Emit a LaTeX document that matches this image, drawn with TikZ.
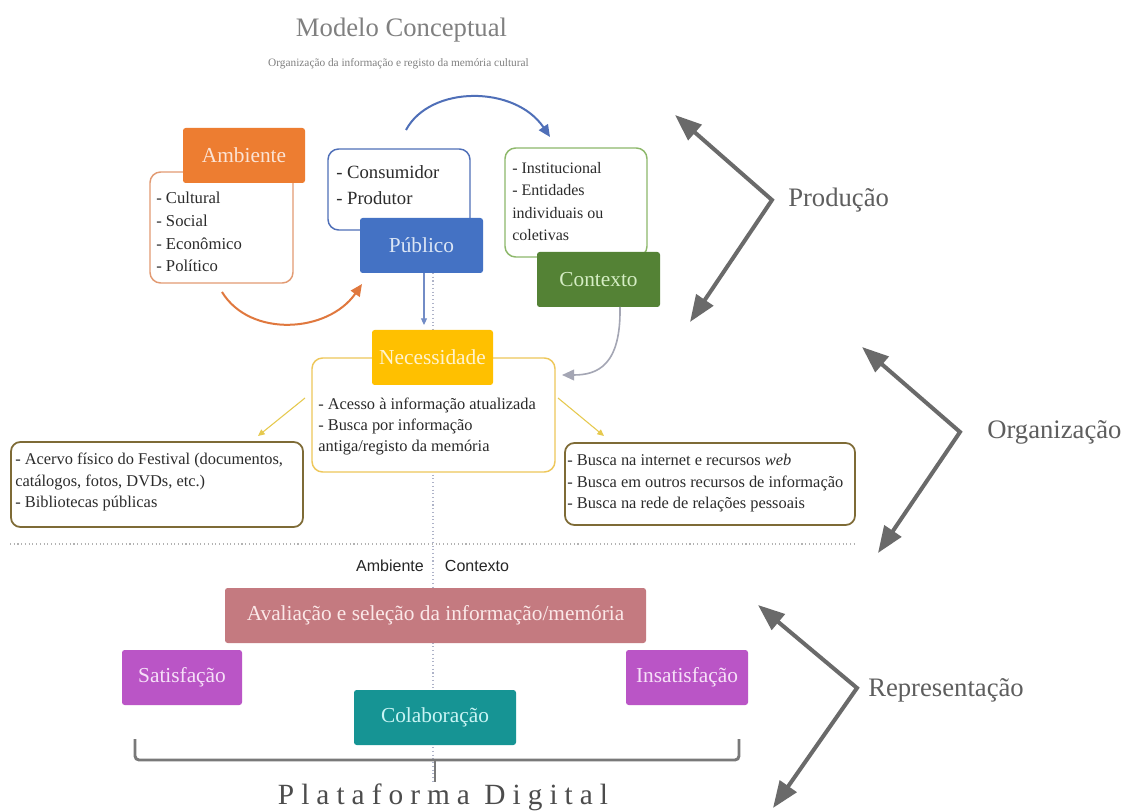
\documentclass[tikz,border=0pt]{standalone}
\usepackage{fontspec}
\setmainfont{Liberation Serif}
\newfontfamily\labsans{Liberation Sans}
\newfontfamily\platfont[LetterSpace=24]{Liberation Serif}
\usetikzlibrary{arrows.meta}
\definecolor{ambfill}{HTML}{ED7D31}
\definecolor{ambtext}{HTML}{FBE3D5}
\definecolor{ambborder}{HTML}{E29A72}
\definecolor{pubfill}{HTML}{4472C4}
\definecolor{pubtext}{HTML}{DCE6F5}
\definecolor{pubborder}{HTML}{4F6FB8}
\definecolor{ctxfill}{HTML}{548235}
\definecolor{ctxtext}{HTML}{D5EDC4}
\definecolor{ctxborder}{HTML}{8DB86A}
\definecolor{necfill}{HTML}{FFC000}
\definecolor{nectext}{HTML}{FFF3CF}
\definecolor{necborder}{HTML}{EEC75A}
\definecolor{brownborder}{HTML}{7E6B36}
\definecolor{avalfill}{HTML}{C47A80}
\definecolor{avaltext}{HTML}{FBE8E8}
\definecolor{satfill}{HTML}{BA55C6}
\definecolor{sattext}{HTML}{F6E0F8}
\definecolor{colfill}{HTML}{169494}
\definecolor{coltext}{HTML}{C9F4F4}
\definecolor{chevcol}{HTML}{6A6A6A}
\definecolor{labelgrey}{HTML}{5E5E5E}
\definecolor{titlegrey}{HTML}{808080}
\definecolor{txtcol}{HTML}{2B2B2B}
\definecolor{yelarrow}{HTML}{E6C94E}
\definecolor{dotcol}{HTML}{AEB3C8}
\definecolor{greyarrow}{HTML}{A4A6B4}
\definecolor{orangearrow}{HTML}{E0783E}
\tikzset{
  sz/.style 2 args={minimum width=#1*0.75pt, minimum height=#2*0.75pt},
  hdr/.style={rectangle, rounded corners=2pt, inner sep=0pt, font=\fontsize{16}{19}\selectfont},
  outer/.style={rectangle, rounded corners=8pt, fill=white, line width=1.1pt, inner sep=0pt},
  srcbox/.style={rectangle, rounded corners=7pt, fill=white, draw=brownborder, line width=1.3pt, inner sep=0pt},
  listtxt/.style={anchor=west, align=left, inner sep=0pt, text=txtcol},
  chev/.style={draw=chevcol, line width=3pt, {Triangle[length=20pt,width=15pt]}-{Triangle[length=20pt,width=15pt]}},
  chevlab/.style={anchor=west, inner sep=0pt, text=labelgrey, font=\fontsize{20}{24}\selectfont},
  thinarrow/.style={line width=0.8pt, -{Triangle[length=5pt,width=4.5pt]}},
  curvearrow/.style={line width=1.5pt, -{Triangle[length=9pt,width=8pt]}}
}
\begin{document}
\begin{tikzpicture}[x=0.75pt,y=-0.75pt]
\useasboundingbox (0,0) rectangle (1128,812);
\fill[white] (0,0) rectangle (1128,812);

% guide lines (behind)
\coordinate (vtop) at (433,273);
\coordinate (vbot) at (433,782);
\draw[dotcol, dotted, line width=0.8pt] (vtop) -- (vbot);
\coordinate (hl) at (10,544);
\coordinate (hr) at (855,544);
\draw[black!30, dotted, line width=0.8pt] (hl) -- (hr);

% title
\node[anchor=base, inner sep=0pt, text=titlegrey, font=\fontsize{20}{24}\selectfont] (title) at (401.5,37) {Modelo Conceptual};
\node[anchor=base, inner sep=0pt, text=titlegrey, font=\fontsize{8.5}{10}\selectfont] (subtitle) at (398.5,67) {Organização da informação e registo da memória cultural};

% Ambiente
\node[outer, draw=ambborder, sz={143}{111}] (ambbox) at (221.5,227.5) {};
\node[listtxt, font=\fontsize{12.5}{17}\selectfont] (ambtxt) at (156,232) {- Cultural\\- Social\\- Econômico\\- Político};
\node[hdr, fill=ambfill, text=ambtext, sz={122}{55}] (amb) at (244,155.5) {Ambiente};

% Publico
\node[outer, draw=pubborder, sz={142}{81}] (pubbox) at (399,189.5) {};
\node[listtxt, font=\fontsize{14}{19.5}\selectfont] (pubtxt) at (336,185) {- Consumidor\\- Produtor};
\node[hdr, fill=pubfill, text=pubtext, sz={123}{55}] (pub) at (421.5,245.5) {Público};

% Contexto
\node[outer, draw=ctxborder, sz={142}{109}] (ctxbox) at (576,202.5) {};
\node[listtxt, font=\fontsize{12}{16.7}\selectfont] (ctxtxt) at (512,201.5) {- Institucional\\- Entidades\\individuais ou\\coletivas};
\node[hdr, fill=ctxfill, text=ctxtext, sz={123}{55}] (ctx) at (598.5,279.5) {Contexto};

% Necessidade
\node[outer, draw=necborder, sz={243}{114}] (necbox) at (433.5,415) {};
\node[listtxt, font=\fontsize{12.3}{16.1}\selectfont] (nectxt) at (318,426.5) {- Acesso à informação atualizada\\- Busca por informação\\antiga/registo da memória};
\node[hdr, fill=necfill, text=nectext, sz={121}{55}] (nec) at (432.5,357.5) {Necessidade};

% source boxes
\node[srcbox, sz={292}{85}] (leftbox) at (157,484.5) {};
\node[listtxt, font=\fontsize{12.3}{16.1}\selectfont] (lefttxt) at (15,482) {- Acervo físico do Festival (documentos,\\catálogos, fotos, DVDs, etc.)\\- Bibliotecas públicas};
\node[srcbox, sz={290}{82}] (rightbox) at (710,484) {};
\node[listtxt, font=\fontsize{12.3}{16.1}\selectfont] (righttxt) at (567,483.5) {- Busca na internet e recursos \textit{web}\\- Busca em outros recursos de informação\\- Busca na rede de relações pessoais};

% arrows in upper part
\coordinate (oa1) at (222,292);
\coordinate (oa2) at (362,284);
\draw[curvearrow, orangearrow] (oa1) .. controls (250,338) and (328,333) .. (oa2);
\coordinate (ba1) at (406,130);
\coordinate (ba2) at (550,137);
\draw[curvearrow, pubborder] (ba1) .. controls (430,85) and (515,85) .. (ba2);
\coordinate (ga1) at (620,307);
\coordinate (ga2) at (562,375);
\draw[curvearrow, line width=1.2pt, greyarrow] (ga1) .. controls (621,365) and (598,375) .. (ga2);
\coordinate (pa1) at (424,273);
\coordinate (pa2) at (424,325);
\draw[thinarrow, pubborder!80!white] (pa1) -- (pa2);
\coordinate (ya1) at (305,398);
\coordinate (ya2) at (258,436);
\draw[thinarrow, yelarrow] (ya1) -- (ya2);
\coordinate (yb1) at (558,398);
\coordinate (yb2) at (604,436);
\draw[thinarrow, yelarrow] (yb1) -- (yb2);

% lower part
\node[inner sep=0pt, text=black!85, font=\labsans\fontsize{12}{14}\selectfont] (lamb) at (390,566) {Ambiente};
\node[inner sep=0pt, text=black!85, font=\labsans\fontsize{12}{14}\selectfont] (lctx) at (477,566) {Contexto};
\node[hdr, fill=avalfill, text=avaltext, sz={421}{55}] (aval) at (435.5,615.5) {Avaliação e seleção da informação/memória};
\node[hdr, fill=satfill, text=sattext, sz={120}{55}] (sat) at (182,677.5) {Satisfação};
\node[hdr, fill=satfill, text=sattext, sz={122}{55}] (insat) at (687,677.5) {Insatisfação};
\node[hdr, fill=colfill, text=coltext, sz={162}{55}] (colab) at (435,717.5) {Colaboração};

% bracket
\coordinate (brl) at (135,739);
\coordinate (brr) at (739,739);
\coordinate (brm) at (435,760);
\coordinate (brt) at (435,782);
\draw[chevcol!90, line width=2.2pt, rounded corners=3pt] (brl) -- (135,760) -- (739,760) -- (brr);
\draw[chevcol!90, line width=2.2pt] (brm) -- (brt);
\node[anchor=base, inner sep=0pt, text=black!70, font=\platfont\fontsize{22}{26}\selectfont] (plat) at (443,804) {Plataforma Digital};

% chevrons
\coordinate (p1) at (675,115);
\coordinate (pv) at (772,200);
\coordinate (p2) at (690,322);
\draw[chev] (p1) -- (pv) -- (p2);
\node[chevlab] (prod) at (788,200) {Produção};
\coordinate (o1) at (862,347);
\coordinate (ov) at (960,432);
\coordinate (o2) at (878,553);
\draw[chev] (o1) -- (ov) -- (o2);
\node[chevlab] (org) at (987,432) {Organização};
\coordinate (r1) at (758,605);
\coordinate (rv) at (857,688);
\coordinate (r2) at (773,808);
\draw[chev] (r1) -- (rv) -- (r2);
\node[chevlab] (rep) at (868,690) {Representação};
\end{tikzpicture}
\end{document}
